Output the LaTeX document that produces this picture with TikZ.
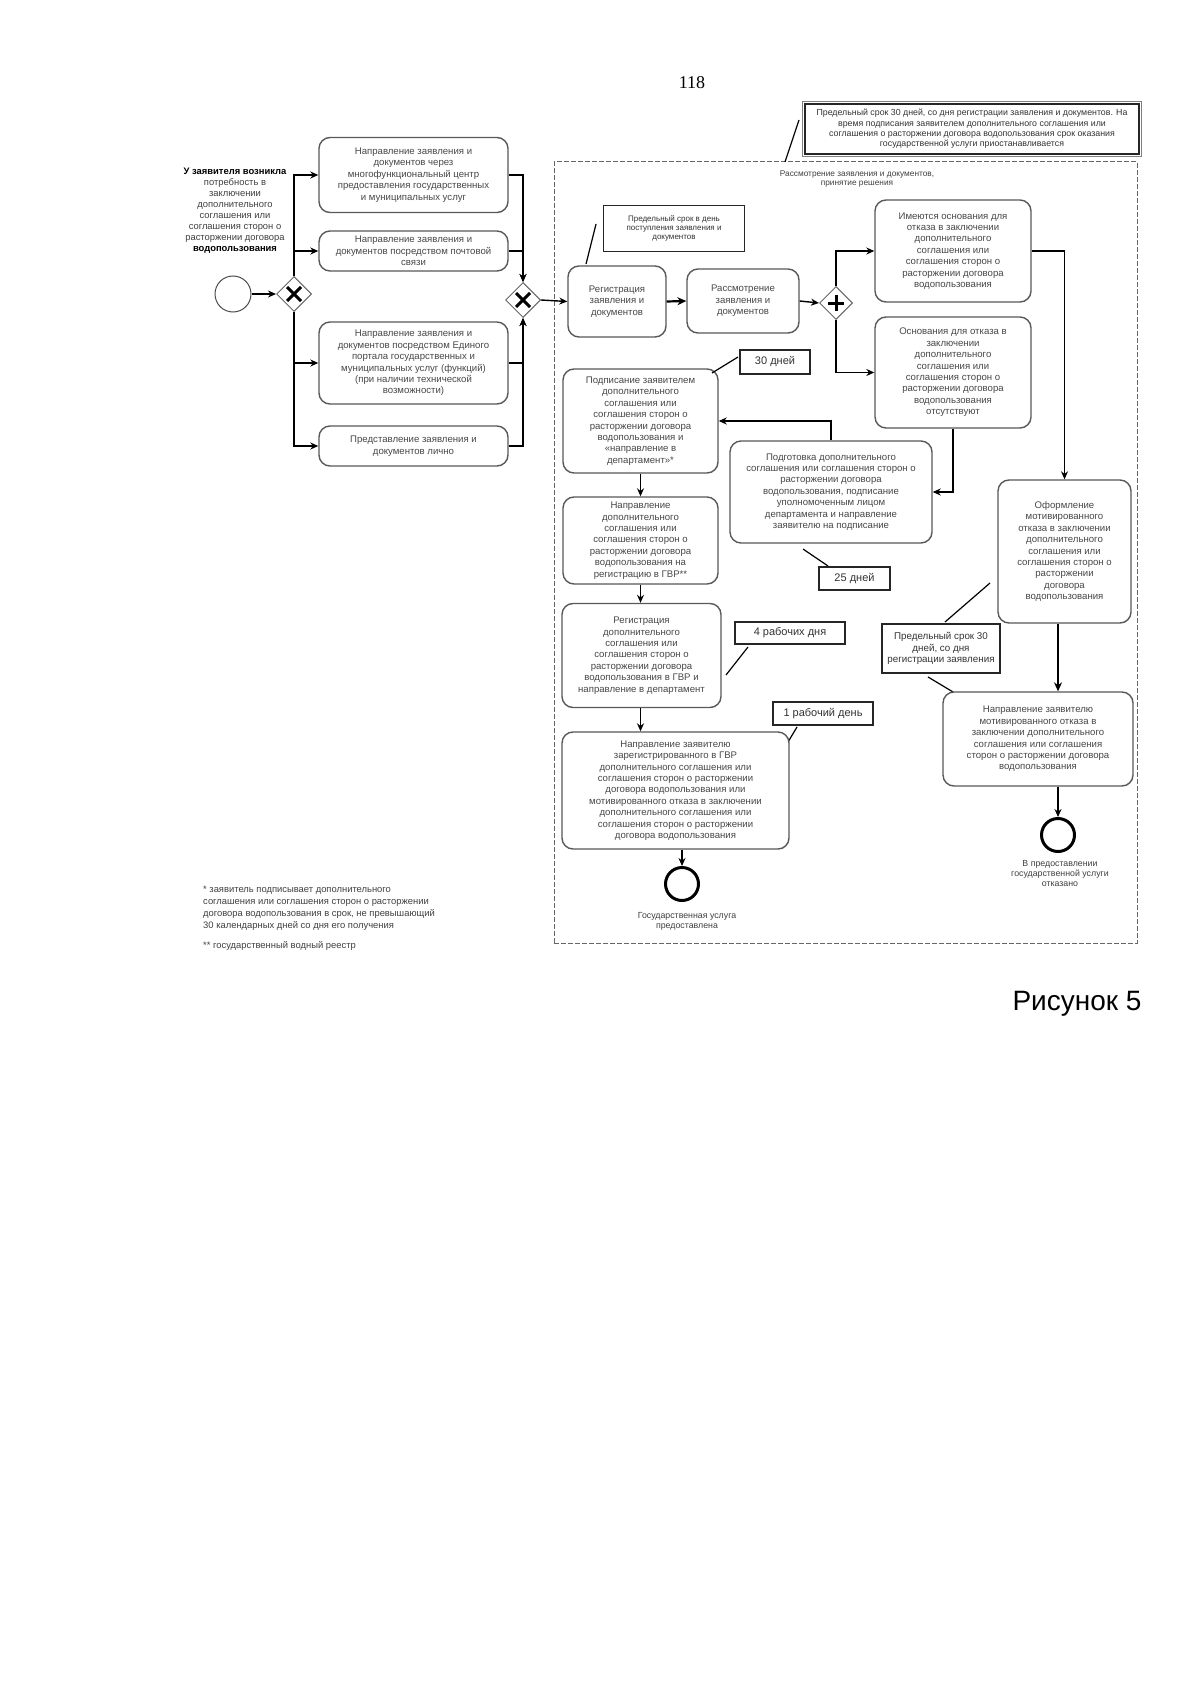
\documentclass[tikz,border=0pt]{standalone}
\usepackage{fontspec}
\setmainfont{Liberation Sans}
\newfontfamily\serifr{Liberation Serif}
\usetikzlibrary{arrows.meta,shapes.geometric,calc}
\begin{document}
\begin{tikzpicture}[x=1pt,y=-1pt,
  proc/.style={draw=black!65, line width=1.4pt, rounded corners=11pt, fill=white, align=center, inner sep=0pt, text=black!72, font=\fontsize{9.6}{11.4}\selectfont},
  notebox/.style={draw=black!85, line width=1.2pt, fill=white, align=center, inner sep=0pt, text=black!80},
  gw/.style={diamond, aspect=1, draw=black!60, line width=1pt, minimum width=35pt, minimum height=35pt, inner sep=0pt, fill=white},
  evstart/.style={circle, draw=black!70, line width=1pt, minimum size=36pt, inner sep=0pt},
  evend/.style={circle, draw=black, line width=3pt, minimum size=33pt, inner sep=0pt},
  arr/.style={draw=black, line width=1.4pt, -{Stealth[length=8pt,width=7pt]}},
  thickarr/.style={draw=black, line width=2.2pt, -{Stealth[length=9pt,width=8pt]}},
  assoc/.style={draw=black, line width=1.2pt},
  smalltxt/.style={align=center, text=black!75, inner sep=0pt},
  gwmark/.style={line width=3pt, draw=black}
]
\fill[white] (0,0) rectangle (1200,1696);
\useasboundingbox (0,0) rectangle (1200,1696);

% page number
\node[font=\serifr\fontsize{18}{20}\selectfont] (pg) at (692,83) {118};

% swimlane (dashed)
\node[draw=black!60, dashed, dash pattern=on 5pt off 2pt, line width=1pt, minimum width=583pt, minimum height=781pt, inner sep=0pt] (lane) at (845.5,552.5) {};
\node[smalltxt, font=\fontsize{8.3}{9.5}\selectfont] (lanetitle) at (857,179) {Рассмотрение заявления и документов,\\принятие решения};

% top note
\node[notebox, draw=black!85, line width=1.3pt, minimum width=334pt, minimum height=50pt, font=\fontsize{8.8}{10.3}\selectfont] (topnote) at (972,129) {Предельный срок 30 дней, со дня регистрации заявления и документов. На\\время подписания заявителем дополнительного соглашения или\\соглашения о расторжении договора водопользования срок оказания\\государственной услуги приостанавливается};
\draw[black!50, line width=0.9pt] ($(topnote.north west)+(-2.2,-2.2)$) rectangle ($(topnote.south east)+(2.2,2.2)$);
\coordinate (tn1) at (799,120);
\coordinate (tn2) at (785,162);
\draw[assoc] (tn1) -- (tn2);

% left text
\node[smalltxt, font=\fontsize{9.4}{11}\selectfont] (lefttxt) at (235,211) {\textbf{\color{black}У заявителя возникла}\\потребность в\\заключении\\дополнительного\\соглашения или\\соглашения сторон о\\расторжении договора\\\textbf{\color{black}водопользования}};

% start + gateway 1
\node[evstart] (start) at (233,294) {};
\node[gw] (gw1) at (294,294) {};
\draw[gwmark] ($(gw1)+(-7,-7)$) -- ($(gw1)+(7,7)$);
\draw[gwmark] ($(gw1)+(-7,7)$) -- ($(gw1)+(7,-7)$);

% submission boxes
\node[proc, minimum width=189pt, minimum height=75pt] (box1) at (413.5,175) {Направление заявления и\\документов через\\многофункциональный центр\\предоставления государственных\\и муниципальных услуг};
\node[proc, minimum width=189pt, minimum height=40pt] (box2) at (413.5,251) {Направление заявления и\\документов посредством почтовой\\связи};
\node[proc, minimum width=189pt, minimum height=82pt] (box3) at (413.5,363) {Направление заявления и\\документов посредством Единого\\портала государственных и\\муниципальных услуг (функций)\\(при наличии технической\\возможности)};
\node[proc, minimum width=189pt, minimum height=40pt] (box4) at (413.5,446) {Представление заявления и\\документов лично};

% gateway 2
\node[gw] (gw2) at (523,300) {};
\draw[gwmark] ($(gw2)+(-7,-7)$) -- ($(gw2)+(7,7)$);
\draw[gwmark] ($(gw2)+(-7,7)$) -- ($(gw2)+(7,-7)$);

% registration and review
\node[notebox, minimum width=141pt, minimum height=46pt, font=\fontsize{8}{9.3}\selectfont] (note1) at (674,228.5) {Предельный срок в день\\поступления заявления и\\документов};
\coordinate (n1a) at (596,224);
\coordinate (n1b) at (586,264);
\draw[assoc] (n1a) -- (n1b);
\node[proc, minimum width=98pt, minimum height=71pt] (reg) at (617,301.5) {Регистрация\\заявления и\\документов};
\node[proc, minimum width=112pt, minimum height=64pt] (rassm) at (743,301) {Рассмотрение\\заявления и\\документов};

% gateway 3
\node[gw, minimum width=33pt, minimum height=33pt] (gw3) at (836,303) {};
\draw[gwmark] ($(gw3)+(-8,0)$) -- ($(gw3)+(8,0)$);
\draw[gwmark] ($(gw3)+(0,-8)$) -- ($(gw3)+(0,8)$);

% decision boxes
\node[proc, minimum width=156pt, minimum height=102pt] (boxA) at (953,251) {Имеются основания для\\отказа в заключении\\дополнительного\\соглашения или\\соглашения сторон о\\расторжении договора\\водопользования};
\node[proc, minimum width=156pt, minimum height=111pt] (boxB) at (953,372.5) {Основания для отказа в\\заключении\\дополнительного\\соглашения или\\соглашения сторон о\\расторжении договора\\водопользования\\отсутствуют};

% left column in lane
\node[proc, minimum width=155pt, minimum height=104pt] (podpis) at (640.5,421) {Подписание заявителем\\дополнительного\\соглашения или\\соглашения сторон о\\расторжении договора\\водопользования и\\«направление в\\департамент»*};
\node[notebox, minimum width=70pt, minimum height=24pt, font=\fontsize{11}{12}\selectfont] (n30) at (775,362) {30 дней};
\coordinate (n30a) at (738,357);
\coordinate (n30b) at (712,373);
\draw[assoc] (n30a) -- (n30b);

\node[proc, minimum width=202pt, minimum height=102pt] (podgot) at (831,492) {Подготовка дополнительного\\соглашения или соглашения сторон о\\расторжении договора\\водопользования, подписание\\уполномоченным лицом\\департамента и направление\\заявителю на подписание};
\node[notebox, minimum width=71pt, minimum height=23pt, font=\fontsize{11}{12}\selectfont] (n25) at (854.5,578.5) {25 дней};
\coordinate (n25a) at (803,549);
\coordinate (n25b) at (828,566);
\draw[assoc] (n25a) -- (n25b);

\node[proc, minimum width=155pt, minimum height=87pt] (naprGVR) at (640.5,540.5) {Направление\\дополнительного\\соглашения или\\соглашения сторон о\\расторжении договора\\водопользования на\\регистрацию в ГВР**};
\node[proc, minimum width=159pt, minimum height=104pt] (regGVR) at (641.5,655.5) {Регистрация\\дополнительного\\соглашения или\\соглашения сторон о\\расторжении договора\\водопользования в ГВР и\\направление в департамент};
\node[notebox, minimum width=110pt, minimum height=22pt, font=\fontsize{11}{12}\selectfont] (n4d) at (790,633) {4 рабочих дня};
\coordinate (n4a) at (748,647);
\coordinate (n4b) at (726,675);
\draw[assoc] (n4a) -- (n4b);

\node[notebox, minimum width=100pt, minimum height=23pt, font=\fontsize{11}{12}\selectfont] (n1d) at (823,713.5) {1 рабочий день};
\coordinate (n1da) at (797,727);
\coordinate (n1db) at (788,742);
\draw[assoc] (n1da) -- (n1db);

\node[proc, minimum width=227pt, minimum height=117pt] (finalL) at (675.5,790.5) {Направление заявителю\\зарегистрированного в ГВР\\дополнительного соглашения или\\соглашения сторон о расторжении\\договора водопользования или\\мотивированного отказа в заключении\\дополнительного соглашения или\\соглашения сторон о расторжении\\договора водопользования};
\node[evend] (endL) at (682,884) {};
\node[smalltxt, font=\fontsize{8.8}{10}\selectfont] (endLtxt) at (687,921) {Государственная услуга\\предоставлена};

% right column
\node[proc, minimum width=133pt, minimum height=143pt] (oform) at (1064.5,551.5) {Оформление\\мотивированного\\отказа в заключении\\дополнительного\\соглашения или\\соглашения сторон о\\расторжении\\договора\\водопользования};
\node[notebox, minimum width=118pt, minimum height=49pt, font=\fontsize{9.8}{11.2}\selectfont] (n30r) at (941,648.5) {Предельный срок 30\\дней, со дня\\регистрации заявления};
\coordinate (n30ra) at (990,583);
\coordinate (n30rb) at (945,622);
\coordinate (n30rc) at (928,677);
\coordinate (n30rd) at (953,692);
\draw[assoc] (n30ra) -- (n30rb);
\draw[assoc] (n30rc) -- (n30rd);
\node[proc, minimum width=190pt, minimum height=94pt] (finalR) at (1038,739) {Направление заявителю\\мотивированного отказа в\\заключении дополнительного\\соглашения или соглашения\\сторон о расторжении договора\\водопользования};
\node[evend] (endR) at (1058,835) {};
\node[smalltxt, font=\fontsize{8.8}{10}\selectfont] (endRtxt) at (1060,874) {В предоставлении\\государственной услуги\\отказано};

% footnotes
\node[anchor=north west, align=left, inner sep=0pt, text=black!75, font=\fontsize{9.4}{11.8}\selectfont] (fn1) at (203,886) {* заявитель подписывает дополнительного\\соглашения или соглашения сторон о расторжении\\договора водопользования в срок, не превышающий\\30 календарных дней со дня его получения};
\node[anchor=west, inner sep=0pt, text=black!75, font=\fontsize{9.4}{11.8}\selectfont] (fn2) at (203,946) {** государственный водный реестр};

% figure caption
\node[anchor=base, inner sep=0pt, font=\fontsize{28}{32}\selectfont] (fig) at (1077,1010) {Рисунок 5};

% ---- connectors ----
\draw[arr] (start) -- (gw1);
\draw[arr] (gw1.north) |- (box1.west);
\draw[arr] (gw1.north) |- (box2.west);
\draw[arr] (gw1.south) |- (box3.west);
\draw[arr] (gw1.south) |- (box4.west);
\draw[arr] (box1.east) -| (gw2.north);
\draw[arr] (box2.east) -| (gw2.north);
\draw[arr] (box3.east) -| (gw2.south);
\draw[arr] (box4.east) -| (gw2.south);
\draw[arr] (gw2.east) -- (reg.west);
\draw[thickarr] (reg.east) -- (rassm.west);
\draw[arr] (rassm.east) -- (gw3.west);
\draw[arr] (gw3.north) |- (boxA.west);
\draw[arr] (gw3.south) |- (boxB.west);
\draw[arr] (boxA.east) -| (oform.north);
\draw[arr] (boxB.south) |- (podgot.east);
\draw[arr] (podgot.north) |- (podpis.east);
\draw[arr] (podpis.south) -- (naprGVR.north);
\draw[arr] (naprGVR.south) -- (naprGVR.south |- regGVR.north);
\draw[arr] (regGVR.south -| naprGVR.south) -- (naprGVR.south |- finalL.north);
\draw[arr] (finalL.south -| endL.north) -- (endL.north);
\draw[thickarr] (oform.south -| endR.north) -- (endR.north |- finalR.north);
\draw[arr] (finalR.south -| endR.north) -- (endR.north);
\end{tikzpicture}
\end{document}
